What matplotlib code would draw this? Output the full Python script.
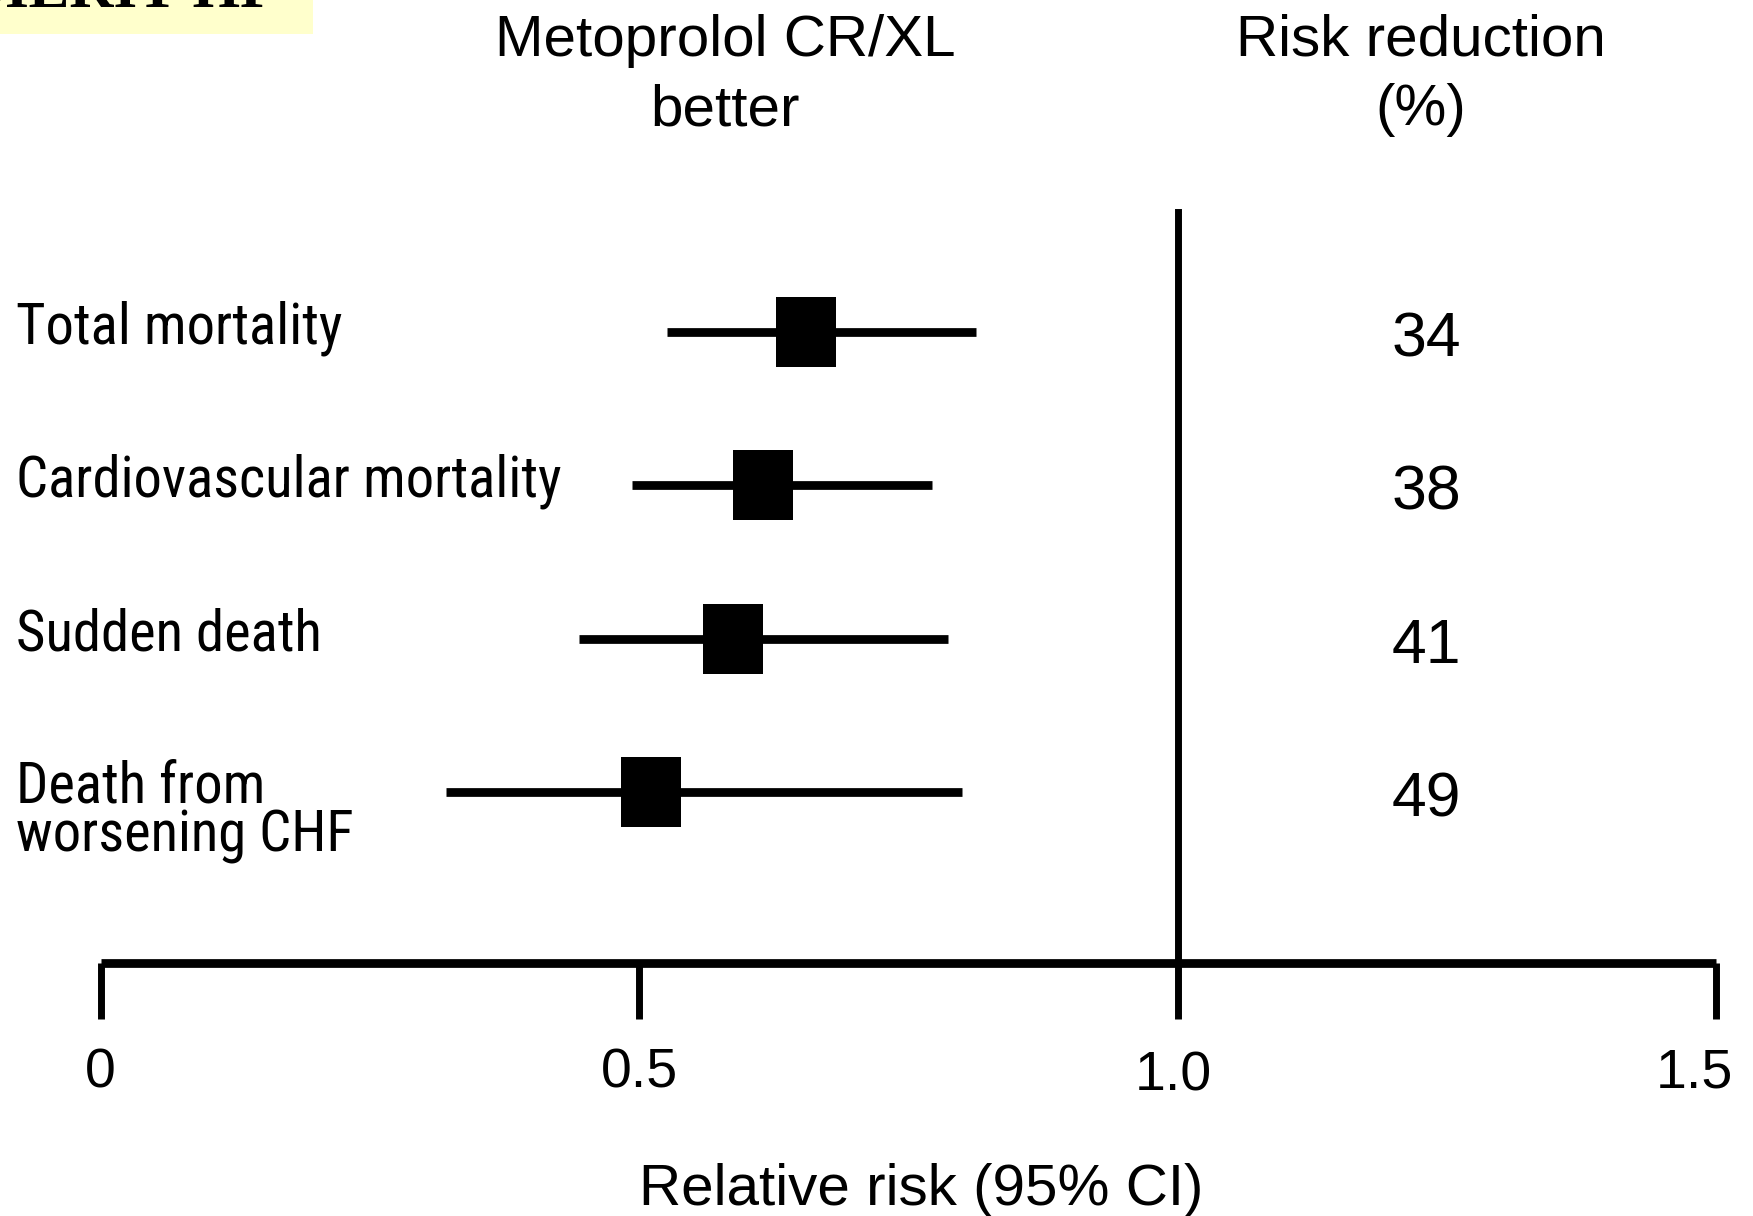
import matplotlib
matplotlib.use("Agg")
import matplotlib.pyplot as plt
from matplotlib.patches import Rectangle
from matplotlib import font_manager as fm
from matplotlib.font_manager import FontProperties
from matplotlib.transforms import ScaledTranslation

# ---- data ----
outcomes = ["Total mortality", "Cardiovascular mortality", "Sudden death",
            "Death from\nworsening CHF"]
rr = [0.655, 0.615, 0.587, 0.511]
ci_low = [0.526, 0.493, 0.444, 0.321]
ci_high = [0.813, 0.772, 0.787, 0.800]
risk_reduction = ["34", "38", "41", "49"]
xticks = [0, 0.5, 1.0, 1.5]
xtick_labels = ["0", "0.5", "1.0", "1.5"]


def pick_condensed():
    ents = fm.fontManager.ttflist

    def ok(e):
        return e.style == "normal" and (e.weight in (400, "normal", "regular", "book"))
    prefs = ["Liberation Sans Narrow", "Arial Narrow", "Roboto Condensed",
             "Noto Sans Condensed", "Open Sans Condensed", "DejaVu Sans Condensed",
             "Noto Sans SemiCondensed"]
    for p in prefs:
        for e in ents:
            if e.name == p and ok(e):
                return FontProperties(fname=e.fname)
    for stretch in ("condensed", "semi-condensed", 62.5, 75, 87.5, "extra-condensed"):
        for e in ents:
            if e.stretch == stretch and ok(e) and "Sans" in e.name:
                return FontProperties(fname=e.fname)
    for e in ents:
        low = (e.fname or "").lower()
        if ("condensed" in low or "narrow" in low) and "bold" not in low \
                and "italic" not in low and "light" not in low:
            return FontProperties(fname=e.fname)
    return None


COND = pick_condensed()
SANS = ["Liberation Sans", "DejaVu Sans"]
SERIF = ["Liberation Serif", "DejaVu Serif"]

W, H = 1753, 1216
fig = plt.figure(figsize=(W / 100, H / 100), dpi=100)
fig.patch.set_facecolor("white")


def fx(px):
    return px / W


def fy(py):
    return 1 - py / H


left, right, top, bottom = 100.6, 1716.0, 150.0, 962.5
ax = fig.add_axes([fx(left), fy(bottom), fx(right - left), (bottom - top) / H])
row_px0 = 332
pitch = 153.3
ax.set_xlim(0, 1.5)
ax.set_ylim((bottom - row_px0) / pitch, (top - row_px0) / pitch)
ax.patch.set_alpha(0)
for s in ["top", "left", "right"]:
    ax.spines[s].set_visible(False)
ax.spines["bottom"].set_linewidth(6.3)
ax.spines["bottom"].set_capstyle("butt")
ax.set_yticks([])
ax.set_xticks(xticks)
ax.set_xticklabels(xtick_labels, family=SANS, fontsize=40)
ax.tick_params(axis="x", direction="out", length=40, width=5, pad=21, color="black")
lbls = ax.get_xticklabels()
lbls[-1].set_transform(lbls[-1].get_transform() + ScaledTranslation(-22 / 100, 0, fig.dpi_scale_trans))
lbls[2].set_transform(lbls[2].get_transform() + ScaledTranslation(-4 / 100, -3 / 100, fig.dpi_scale_trans))

rows = list(range(len(outcomes)))

ax.axvline(1.0, ymin=0, ymax=(bottom - 212) / (bottom - top), color="black", lw=5)

ax.hlines(rows, ci_low, ci_high, color="black", lw=6.3, capstyle="butt")
sq = [(-0.42, -0.5), (0.42, -0.5), (0.42, 0.5), (-0.42, 0.5), (-0.42, -0.5)]
ax.plot(rr, rows, linestyle="none", marker=sq, markersize=51, color="black",
        markeredgewidth=0)

lab_x = -(left - 15.6) / ((right - left) / 1.5)
if COND is not None:
    lab_font = dict(fontproperties=COND.copy())
else:
    lab_font = dict(family=SANS)
texts = []
for i, lab in enumerate(outcomes):
    if "\n" in lab:
        t = ax.text(lab_x, i + 0.13, lab, ha="left", va="center", linespacing=0.86,
                    clip_on=False, **lab_font)
    else:
        t = ax.text(lab_x, i + 0.075, lab, ha="left", va="baseline", clip_on=False,
                    **lab_font)
    t.set_fontsize(45)
    texts.append(t)

fig.canvas.draw()
r = fig.canvas.get_renderer()
w_cv = texts[1].get_window_extent(r).width
target = 545.0
scale = min(1.0, target / w_cv)
for t in texts:
    t.set_fontsize(45 * scale)

for i, v in enumerate(risk_reduction):
    ax.text(1.231, i + 0.16, v, family=SANS, fontsize=45, ha="center",
            va="baseline", clip_on=False)

hy = (56 - row_px0) / pitch
hy2 = (125 - row_px0) / pitch
ax.text(0.58, hy, "Metoprolol CR/XL", family=SANS, fontsize=42, ha="center",
        va="baseline", clip_on=False)
ax.text(0.58, hy2, "better", family=SANS, fontsize=42, ha="center",
        va="baseline", clip_on=False)
ax.text(1.226, hy, "Risk reduction", family=SANS, fontsize=42, ha="center",
        va="baseline", clip_on=False)
ax.text(1.226, hy2, "(%)", family=SANS, fontsize=42, ha="center",
        va="baseline", clip_on=False)

ax.text(0.762, (1205 - row_px0) / pitch, "Relative risk (95% CI)", family=SANS,
        fontsize=42, ha="center", va="baseline", clip_on=False)

fig.patches.append(Rectangle((0, fy(34)), fx(313), 34 / H, transform=fig.transFigure,
                             facecolor="#FFFFCC", edgecolor="none", zorder=0))
fig.text(fx(277), fy(7), "MERIT-HF", family=SERIF, fontweight="bold", fontsize=44,
         ha="right", va="baseline", zorder=1)

fig.savefig("out.png", dpi=100)
